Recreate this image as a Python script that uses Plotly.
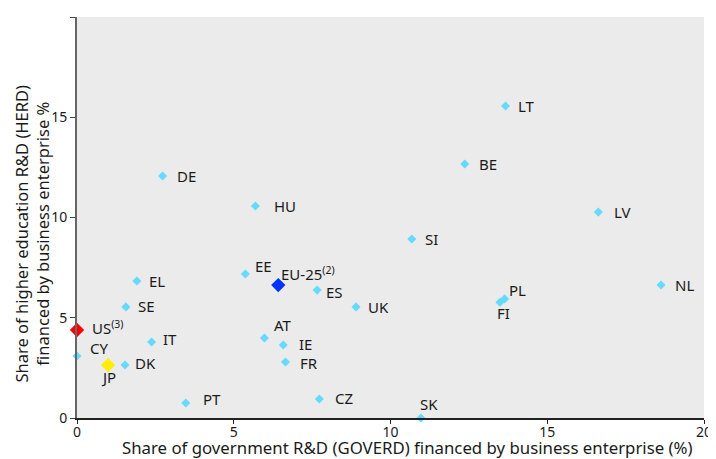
import plotly.graph_objects as go

# Data
countries = ["LT", "BE", "LV", "DE", "HU", "SI", "EE", "ES", "EL", "SE", "UK",
             "PL", "FI", "NL", "AT", "IE", "FR", "IT", "CY", "DK", "PT", "CZ", "SK"]
goverd = [13.67, 12.37, 16.63, 2.73, 5.69, 10.68, 5.37, 7.66, 1.91, 1.56, 8.90,
          13.64, 13.49, 18.63, 5.98, 6.58, 6.65, 2.38, 0.0, 1.53, 3.47, 7.73, 10.97]
herd = [15.56, 12.67, 10.27, 12.07, 10.57, 8.93, 7.18, 6.38, 6.83, 5.54, 5.54,
        5.94, 5.77, 6.63, 3.99, 3.64, 2.79, 3.79, 3.09, 2.64, 0.75, 0.95, 0.0]

special_names = ["EU-25<sup>(2)</sup>", "US<sup>(3)</sup>", "JP"]
special_goverd = [6.42, 0.0, 0.99]
special_herd = [6.63, 4.39, 2.64]

x_ticks = [0, 5, 10, 15, 20]
y_ticks = [0, 5, 10, 15, 20]

x_title = "Share of government R&D (GOVERD) financed by business enterprise (%)"
y_title = "Share of higher education R&D (HERD)<br>financed by business enterprise %"

# Styles (label offsets in pixels: xshift, yshift, anchor)
label_style = {
    "LT": (10, 0, "left"), "BE": (12, 0, "left"), "LV": (14, 0, "left"),
    "DE": (12, 0, "left"), "HU": (17, 0, "left"), "SI": (11, 0, "left"),
    "EE": (8, 8, "left"), "ES": (7, -2, "left"), "EL": (10, 0, "left"),
    "SE": (10, 1, "left"), "UK": (10, 0, "left"), "PL": (2, 9, "left"),
    "FI": (-5, -11, "left"), "NL": (12, 0, "left"), "AT": (8, 13, "left"),
    "IE": (14, 1, "left"), "FR": (13, -1, "left"), "IT": (9, 3, "left"),
    "CY": (11, 8, "left"), "DK": (8, 2, "left"), "PT": (15, 4, "left"),
    "CZ": (14, 1, "left"), "SK": (8, 14, "center"),
}
special_style = [(1, 12, "left"), (13, 2, "left"), (0, -12, "center")]
special_colors = ["#0033ff", "#ff0000", "#ffee00"]

FONT = "Noto Sans"
LABEL_SIZE = 15
TEXT_COLOR = "#1a1a1a"

fig = go.Figure()
fig.add_trace(go.Scatter(
    x=goverd, y=herd, mode="markers",
    marker=dict(symbol="diamond", size=7, color="#66d9ff"),
    cliponaxis=False, hoverinfo="text", text=countries,
))
fig.add_trace(go.Scatter(
    x=special_goverd, y=special_herd, mode="markers",
    marker=dict(symbol="diamond", size=11, color=special_colors),
    cliponaxis=False, hoverinfo="text", text=special_names,
))

annotations = []
for name, xv, yv in zip(countries, goverd, herd):
    dx, dy, anc = label_style[name]
    annotations.append(dict(x=xv, y=yv, text=name, showarrow=False,
                            xanchor=anc, yanchor="middle", xshift=dx, yshift=dy,
                            font=dict(family=FONT, size=LABEL_SIZE, color=TEXT_COLOR)))
for name, xv, yv, st in zip(special_names, special_goverd, special_herd, special_style):
    dx, dy, anc = st
    annotations.append(dict(x=xv, y=yv, text=name, showarrow=False,
                            xanchor=anc, yanchor="middle", xshift=dx, yshift=dy,
                            font=dict(family=FONT, size=LABEL_SIZE, color=TEXT_COLOR)))

# Axis titles
annotations.append(dict(xref="paper", yref="paper", x=0.5, y=0, text=x_title,
                        showarrow=False, xanchor="center", yanchor="middle",
                        xshift=17, yshift=-29.5,
                        font=dict(family=FONT, size=16.8, color=TEXT_COLOR)))
annotations.append(dict(xref="paper", yref="paper", x=0, y=0.5, text=y_title,
                        showarrow=False, xanchor="center", yanchor="middle",
                        textangle=-90, xshift=-46, yshift=-16,
                        font=dict(family=FONT, size=16.5, color=TEXT_COLOR)))

# The page body adds an 8px offset, so the figure is sized to fit the window.
fig.update_layout(
    width=708, height=451,
    margin=dict(l=69, r=12, t=9, b=41, autoexpand=False),
    paper_bgcolor="white", plot_bgcolor="#ebebeb",
    showlegend=False,
    font=dict(family=FONT, size=14, color=TEXT_COLOR),
    annotations=annotations,
    xaxis=dict(range=[0, 20], tickvals=x_ticks, showgrid=False, zeroline=False,
               automargin=False,
               showline=True, linecolor="#222222", linewidth=2,
               ticks="outside", ticklen=4, tickcolor="#222222", tickwidth=1,
               ticklabelstandoff=-4,
               tickfont=dict(size=14)),
    yaxis=dict(range=[0, 20], tickvals=y_ticks, showgrid=False, zeroline=False,
               automargin=False,
               showline=True, linecolor="#666666", linewidth=2,
               ticks="outside", ticklen=5, tickcolor="#444444", tickwidth=1,
               tickfont=dict(size=14)),
)

fig.write_html("out.html")
